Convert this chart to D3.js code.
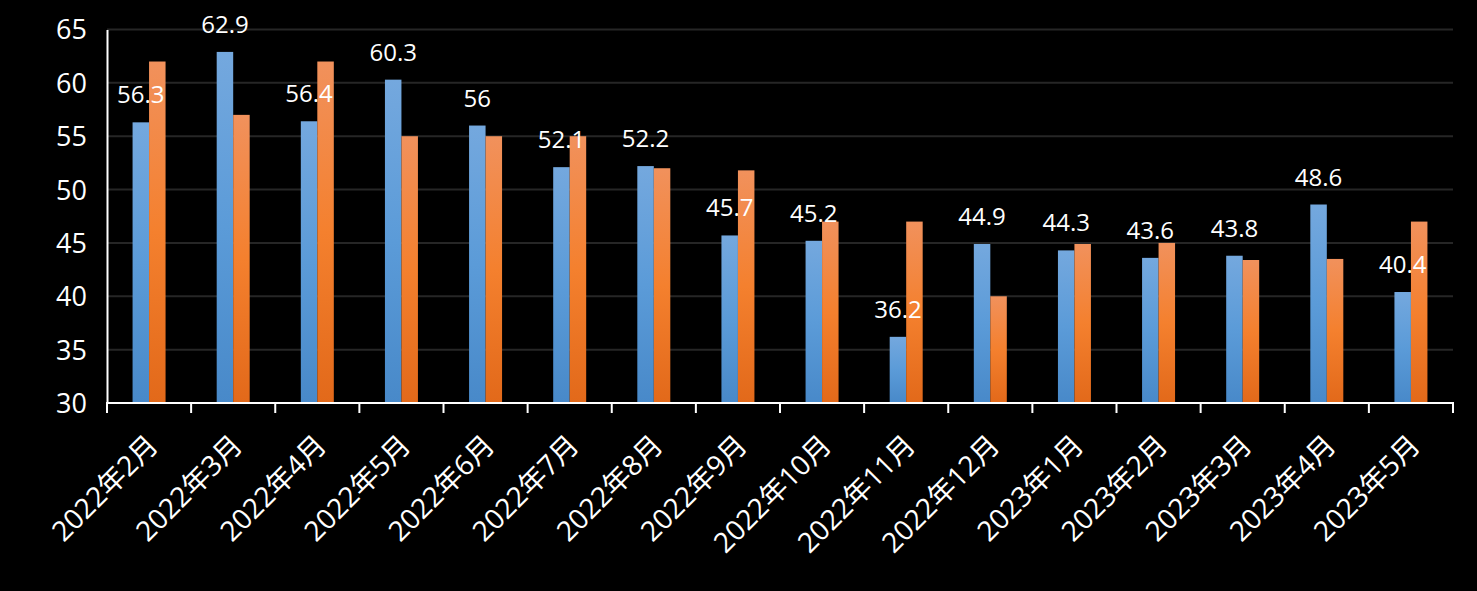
<!DOCTYPE html>
<html><head><meta charset="utf-8">
<script src="https://cdn.jsdelivr.net/npm/d3@7"></script>
<style>
html,body{margin:0;padding:0;background:#000;}
svg{display:block;}
text{font-family:"Open Sans","Noto Sans CJK SC",sans-serif;fill:#fff;}
</style></head>
<body><svg id="c" width="1477" height="591"></svg>
<script>
const categories = ["2022年2月","2022年3月","2022年4月","2022年5月","2022年6月","2022年7月","2022年8月","2022年9月","2022年10月","2022年11月","2022年12月","2023年1月","2023年2月","2023年3月","2023年4月","2023年5月"];
const seriesA = [56.3,62.9,56.4,60.3,56,52.1,52.2,45.7,45.2,36.2,44.9,44.3,43.6,43.8,48.6,40.4];
const seriesB = [62,57,62,55,55,55,52,51.8,47,47,40,44.9,45,43.4,43.5,47];
const yTicks = [30,35,40,45,50,55,60,65];

(function(){
const svg = d3.select("#c");
svg.append("rect").attr("width",1477).attr("height",591).attr("fill","#000");
const pLeft=107, pRight=1453, pTop=29.5, pBottom=403;

const defs = svg.append("defs");
const gA = defs.append("linearGradient").attr("id","gA").attr("x1",0).attr("y1",0).attr("x2",0).attr("y2",1);
gA.append("stop").attr("offset","0%").attr("stop-color","#74a8de");
gA.append("stop").attr("offset","50%").attr("stop-color","#5b9bd8");
gA.append("stop").attr("offset","100%").attr("stop-color","#4889c9");
const gB = defs.append("linearGradient").attr("id","gB").attr("x1",0).attr("y1",0).attr("x2",0).attr("y2",1);
gB.append("stop").attr("offset","0%").attr("stop-color","#f1915c");
gB.append("stop").attr("offset","50%").attr("stop-color","#f4802e");
gB.append("stop").attr("offset","100%").attr("stop-color","#e2691a");

const x0 = d3.scaleBand().domain(categories).range([pLeft,pRight]).padding(0);
const x1 = d3.scaleBand().domain(["A","B"]).range([0,x0.bandwidth()]).paddingInner(0).paddingOuter(1.55);
const y = d3.scaleLinear().domain([30,65]).range([pBottom,pTop]);

svg.append("g").selectAll("line").data(yTicks.filter(t=>t>30)).join("line")
  .attr("x1",pLeft).attr("x2",pRight).attr("y1",d=>y(d)).attr("y2",d=>y(d))
  .attr("stroke","#262626").attr("stroke-width",2);

const yAxis = svg.append("g").attr("transform",`translate(${pLeft},0)`)
  .call(d3.axisLeft(y).tickValues(yTicks).tickSize(0).tickPadding(20));
yAxis.select(".domain").attr("stroke","#fff").attr("stroke-width",2);
yAxis.selectAll("text").attr("font-size",27).attr("fill","#fff").attr("dy","0.35em")
  .style("font-family",'"Open Sans","Noto Sans CJK SC",sans-serif');

const g = svg.append("g");
categories.forEach((c,i)=>{
  g.append("rect").attr("x",x0(c)+x1("A")).attr("width",x1.bandwidth())
    .attr("y",y(seriesA[i])).attr("height",pBottom-y(seriesA[i])).attr("fill","url(#gA)");
  g.append("rect").attr("x",x0(c)+x1("B")).attr("width",x1.bandwidth())
    .attr("y",y(seriesB[i])).attr("height",pBottom-y(seriesB[i])).attr("fill","url(#gB)");
});

categories.forEach((c,i)=>{
  svg.append("text").attr("x",x0(c)+x1("A")+x1.bandwidth()/2).attr("y",y(seriesA[i])-19)
    .attr("text-anchor","middle").attr("font-size",24).text(seriesA[i]);
});

const xAxis = svg.append("g").attr("transform",`translate(0,${pBottom})`);
xAxis.append("line").attr("x1",pLeft-1).attr("x2",pRight+1).attr("y1",0).attr("y2",0).attr("stroke","#fff").attr("stroke-width",2);
const bounds = categories.map(c=>x0(c)).concat([pRight]);
xAxis.selectAll(".tk").data(bounds).join("line").attr("class","tk")
  .attr("x1",d=>d).attr("x2",d=>d).attr("y1",0).attr("y2",10).attr("stroke","#fff").attr("stroke-width",2);
xAxis.selectAll(".xl").data(categories).join("text").attr("class","xl")
  .attr("transform",c=>`translate(${x0(c)+x0.bandwidth()/2-3},${30}) rotate(-45)`)
  .attr("text-anchor","end").attr("font-size",28).attr("dy","0.7em").text(d=>d);
})();
</script></body></html>
